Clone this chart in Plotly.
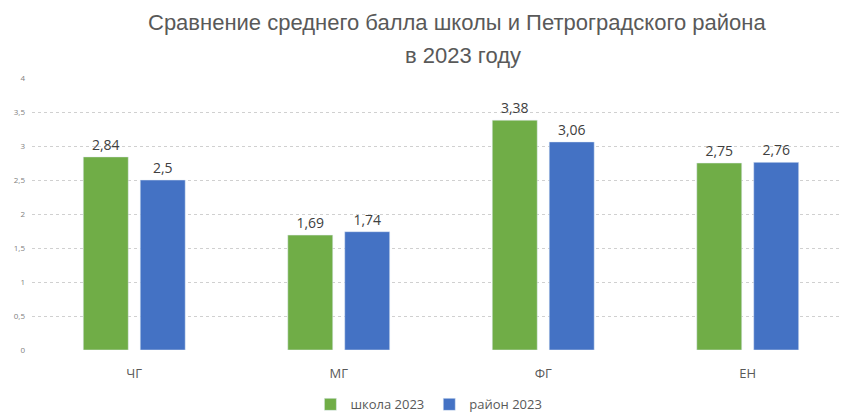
import plotly.graph_objects as go

categories = ["ЧГ", "МГ", "ФГ", "ЕН"]
school_2023 = [2.84, 1.69, 3.38, 2.75]
district_2023 = [2.5, 1.74, 3.06, 2.76]
series_names = ["школа 2023", "район 2023"]
y_ticks = [0, 0.5, 1, 1.5, 2, 2.5, 3, 3.5, 4]

def fmt(v):
    return f"{v:g}".replace(".", ",")

fig = go.Figure()
fig.add_bar(x=categories, y=school_2023, name=series_names[0], marker_color="#70AD47",
            text=[fmt(v) for v in school_2023], textposition="outside",
            textfont=dict(size=14, color="#404040"), cliponaxis=False)
fig.add_bar(x=categories, y=district_2023, name=series_names[1], marker_color="#4472C4",
            text=[fmt(v) for v in district_2023], textposition="outside",
            textfont=dict(size=14, color="#404040"), cliponaxis=False)

title_font = dict(size=22, family="Liberation Sans, Arial, sans-serif", color="#595959")
fig.update_layout(
    width=842, height=412,
    margin=dict(l=32, r=0, t=78, b=62, autoexpand=False),
    paper_bgcolor="white", plot_bgcolor="white",
    separators=", ",
    barmode="group", bargap=0.443, bargroupgap=0.21,
    font=dict(family="Open Sans, DejaVu Sans, sans-serif", color="#595959"),
    showlegend=True,
    legend=dict(orientation="h", x=0.49, xanchor="center", y=-0.2, yanchor="middle",
                font=dict(size=13, color="#595959"), itemwidth=30),
    annotations=[
        dict(text="Сравнение среднего балла школы и Петроградского района", x=457, y=412-22,
             xref="paper", yref="paper", showarrow=False, font=title_font,
             xanchor="center", yanchor="middle"),
        dict(text="в 2023 году", x=463, y=412-55, xref="paper", yref="paper", showarrow=False,
             font=title_font, xanchor="center", yanchor="middle"),
    ],
)
# convert pixel positions of title annotations to paper coords
for a in fig.layout.annotations:
    a.x = (a.x - 32) / 810
    a.y = (a.y - 62) / 272

fig.update_xaxes(range=[-0.5, 3.461], showgrid=False, showline=False, ticks="",
                 tickfont=dict(size=13, color="#595959"), ticklabelstandoff=14)
fig.update_yaxes(range=[0, 4], tickvals=y_ticks, showgrid=True, gridcolor="#d0d0d0",
                 griddash="dot", zeroline=False, showline=False,
                 tickfont=dict(size=8, color="#7f7f7f"), ticklabelstandoff=6)

fig.write_html("out.html", config={"displayModeBar": False},
               post_script="document.body.style.margin='0';document.body.style.overflow='hidden';")
